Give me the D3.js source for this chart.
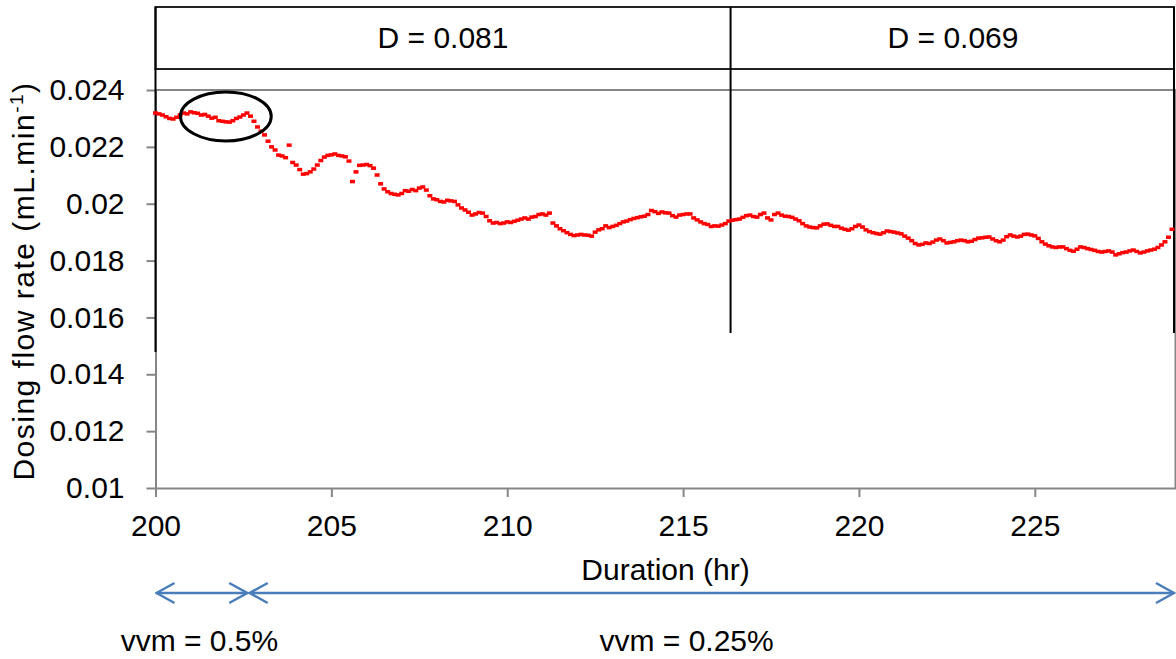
<!DOCTYPE html>
<html>
<head>
<meta charset="utf-8">
<script src="https://cdn.jsdelivr.net/npm/d3@7"></script>
<style>
  body { margin: 0; background: #fff; }
  text { font-family: "Liberation Sans", Arial, sans-serif; fill: #000; }
</style>
</head>
<body>
<div id="chart"></div>
<script>
var svgWidth = 1176;
var svgHeight = 659;

// Time axis starts at 200 hr, one reading every 0.1 hr
var startHour = 200;
var stepHour = 0.1;

// Dosing flow rate readings (mL.min-1), 200.0 .. 228.9 hr
var flowRate = [
  0.02319, 0.02316, 0.02312, 0.02306, 0.02300, 0.02298, 0.02304, 0.02312, 0.02319, 0.02316,
  0.02323, 0.02320, 0.02318, 0.02312, 0.02314, 0.02308, 0.02301, 0.02304, 0.02292, 0.02290,
  0.02288, 0.02287, 0.02292, 0.02300, 0.02305, 0.02312, 0.02319, 0.02308, 0.02290, 0.02270,
  0.02255, 0.02242, 0.02220, 0.02200, 0.02189, 0.02171, 0.02168, 0.02162, 0.02206, 0.02145,
  0.02136, 0.02120, 0.02104, 0.02106, 0.02112, 0.02122, 0.02136, 0.02152, 0.02164, 0.02170,
  0.02172, 0.02175, 0.02170, 0.02168, 0.02165, 0.02150, 0.02078, 0.02112, 0.02135, 0.02136,
  0.02138, 0.02134, 0.02125, 0.02101, 0.02070, 0.02052, 0.02042, 0.02036, 0.02033, 0.02031,
  0.02036, 0.02046, 0.02044, 0.02050, 0.02046, 0.02055, 0.02059, 0.02048, 0.02028, 0.02017,
  0.02014, 0.02008, 0.02006, 0.02012, 0.02010, 0.02008, 0.01996, 0.01985, 0.01978, 0.01970,
  0.01960, 0.01964, 0.01969, 0.01967, 0.01955, 0.01940, 0.01932, 0.01934, 0.01930, 0.01932,
  0.01936, 0.01934, 0.01938, 0.01942, 0.01946, 0.01950, 0.01946, 0.01953, 0.01955, 0.01962,
  0.01964, 0.01960, 0.01967, 0.01932, 0.01922, 0.01912, 0.01905, 0.01898, 0.01892, 0.01888,
  0.01890, 0.01892, 0.01890, 0.01889, 0.01886, 0.01900, 0.01908, 0.01912, 0.01922, 0.01916,
  0.01920, 0.01924, 0.01930, 0.01936, 0.01939, 0.01944, 0.01948, 0.01951, 0.01954, 0.01956,
  0.01962, 0.01976, 0.01972, 0.01966, 0.01971, 0.01968, 0.01967, 0.01958, 0.01953, 0.01960,
  0.01962, 0.01964, 0.01964, 0.01950, 0.01943, 0.01936, 0.01930, 0.01927, 0.01920, 0.01922,
  0.01921, 0.01925, 0.01930, 0.01939, 0.01942, 0.01944, 0.01946, 0.01952, 0.01958, 0.01960,
  0.01955, 0.01953, 0.01962, 0.01967, 0.01950, 0.01943, 0.01962, 0.01967, 0.01960, 0.01956,
  0.01955, 0.01952, 0.01946, 0.01940, 0.01930, 0.01922, 0.01918, 0.01916, 0.01915, 0.01922,
  0.01928, 0.01929, 0.01924, 0.01920, 0.01920, 0.01914, 0.01910, 0.01907, 0.01912, 0.01920,
  0.01925, 0.01918, 0.01908, 0.01902, 0.01898, 0.01895, 0.01893, 0.01898, 0.01904, 0.01902,
  0.01900, 0.01897, 0.01894, 0.01886, 0.01879, 0.01870, 0.01860, 0.01855, 0.01857, 0.01862,
  0.01860, 0.01865, 0.01872, 0.01876, 0.01870, 0.01862, 0.01864, 0.01866, 0.01870, 0.01872,
  0.01870, 0.01866, 0.01868, 0.01874, 0.01879, 0.01880, 0.01882, 0.01883, 0.01876, 0.01870,
  0.01866, 0.01872, 0.01884, 0.01890, 0.01886, 0.01883, 0.01886, 0.01892, 0.01893, 0.01890,
  0.01887, 0.01878, 0.01866, 0.01858, 0.01852, 0.01848, 0.01846, 0.01848, 0.01848, 0.01842,
  0.01836, 0.01833, 0.01840, 0.01848, 0.01846, 0.01842, 0.01839, 0.01836, 0.01832, 0.01830,
  0.01832, 0.01834, 0.01830, 0.01820, 0.01824, 0.01828, 0.01830, 0.01834, 0.01837, 0.01832,
  0.01827, 0.01830, 0.01834, 0.01837, 0.01840, 0.01846, 0.01855, 0.01866, 0.01882, 0.01910
];

var xTicks = [200, 205, 210, 215, 220, 225];
var yTicks = [0.01, 0.012, 0.014, 0.016, 0.018, 0.02, 0.022, 0.024];

// Dilution rate periods (hr) and their labels
var dBreaks = [200, 216.35, 229];
var dLabels = ["D = 0.081", "D = 0.069"];

// Aeration periods (hr) and their labels
var vvmBreaks = [200, 202.65, 229];
var vvmLabels = ["vvm = 0.5%", "vvm = 0.25%"];
var vvmLabelAt = [201.25, 215.1];

// Highlighted region: centre (hr, flow) and half extents
var ringCentre = [202.0, 0.02307];
var ringHalf = [1.29, 0.00086];

var svg = d3.select("#chart")
  .append("svg")
  .attr("width", svgWidth)
  .attr("height", svgHeight);

var x = d3.scaleLinear().domain([200, 229]).range([155.5, 1175.5]);
var y = d3.scaleLinear().domain([0.01, 0.024]).range([488, 90]);

var grey = "#868686";
var blue = "#4a7ebb";

// Plot frame (top and right edges)
svg.append("path")
  .attr("d", `M${x(200)},${y(0.024)}H${x(229)}V${y(0.01)}`)
  .attr("fill", "none")
  .attr("stroke", grey)
  .attr("stroke-width", 2);

// Axes
var xAxis = svg.append("g")
  .attr("transform", `translate(0, ${y(0.01)})`)
  .call(d3.axisBottom(x).tickValues(xTicks).tickSize(9).tickPadding(18).tickSizeOuter(0));

var yAxis = svg.append("g")
  .attr("transform", `translate(${x(200)}, 0)`)
  .call(d3.axisLeft(y).tickValues(yTicks).tickSize(9).tickPadding(22).tickSizeOuter(0)
    .tickFormat(d => String(+d.toFixed(3))));

[xAxis, yAxis].forEach(function(ax) {
  ax.select(".domain").attr("stroke", grey).attr("stroke-width", 2);
  ax.selectAll(".tick line").attr("stroke", grey).attr("stroke-width", 2);
  ax.selectAll(".tick text")
    .attr("fill", "#000")
    .style("font-size", "30px")
    .style("font-family", "'Liberation Sans', Arial, sans-serif");
});

// Header boxes with the dilution rates
svg.append("rect")
  .attr("x", x(200))
  .attr("y", 7)
  .attr("width", x(229) - x(200) - 1.5)
  .attr("height", 62)
  .attr("fill", "none")
  .attr("stroke", "#222")
  .attr("stroke-width", 2);

var dEnds = [352, 333, 333];
svg.selectAll(".dline")
  .data(dBreaks)
  .enter()
  .append("line")
  .attr("x1", (d, i) => i == dBreaks.length - 1 ? x(d) - 1.5 : x(d))
  .attr("x2", (d, i) => i == dBreaks.length - 1 ? x(d) - 1.5 : x(d))
  .attr("y1", 7)
  .attr("y2", (d, i) => dEnds[i])
  .attr("stroke", "#000")
  .attr("stroke-width", 2);

svg.selectAll(".dlabel")
  .data(dLabels)
  .enter()
  .append("text")
  .attr("x", (d, i) => (x(dBreaks[i]) + x(dBreaks[i + 1])) / 2)
  .attr("y", 48)
  .attr("text-anchor", "middle")
  .style("font-size", "30px")
  .text(d => d);

// Flow rate readings
svg.selectAll(".pt")
  .data(flowRate)
  .enter()
  .append("rect")
  .attr("x", (d, i) => x(startHour + i * stepHour) - 2.5)
  .attr("y", d => y(d) - 1.75)
  .attr("width", 5)
  .attr("height", 3.5)
  .attr("fill", "#ff0000");

// Highlight ring
svg.append("ellipse")
  .attr("cx", x(ringCentre[0]))
  .attr("cy", y(ringCentre[1]))
  .attr("rx", x(200 + ringHalf[0]) - x(200))
  .attr("ry", y(0.01) - y(0.01 + ringHalf[1]))
  .attr("fill", "none")
  .attr("stroke", "#000")
  .attr("stroke-width", 3);

// Axis titles
svg.append("text")
  .attr("x", (x(200) + x(229)) / 2)
  .attr("y", 580)
  .attr("text-anchor", "middle")
  .style("font-size", "30px")
  .text("Duration (hr)");

var yTitle = svg.append("text")
  .attr("transform", "translate(34, 281) rotate(-90)")
  .attr("text-anchor", "middle")
  .style("font-size", "30px")
  .style("letter-spacing", "1.5px");
yTitle.append("tspan").text("Dosing flow rate (mL.min");
yTitle.append("tspan").attr("dy", -11).style("font-size", "19px").text("-1");
yTitle.append("tspan").attr("dy", 11).text(")");

// Aeration arrows
var defs = svg.append("defs");
defs.append("marker")
  .attr("id", "vee")
  .attr("markerUnits", "userSpaceOnUse")
  .attr("viewBox", "-20 -12 22 24")
  .attr("markerWidth", 22)
  .attr("markerHeight", 24)
  .attr("refX", 0)
  .attr("refY", 0)
  .attr("orient", "auto-start-reverse")
  .append("path")
  .attr("d", "M-18,-10L0,0L-18,10")
  .attr("fill", "none")
  .attr("stroke", blue)
  .attr("stroke-width", 2.5);

svg.selectAll(".vvm")
  .data(vvmLabels)
  .enter()
  .append("line")
  .attr("x1", (d, i) => x(vvmBreaks[i]) + 1)
  .attr("x2", (d, i) => x(vvmBreaks[i + 1]) - 1.5)
  .attr("y1", 593)
  .attr("y2", 593)
  .attr("stroke", blue)
  .attr("stroke-width", 2.5)
  .attr("marker-start", "url(#vee)")
  .attr("marker-end", "url(#vee)");

svg.selectAll(".vvmlabel")
  .data(vvmLabels)
  .enter()
  .append("text")
  .attr("x", (d, i) => x(vvmLabelAt[i]))
  .attr("y", 651)
  .attr("text-anchor", "middle")
  .style("font-size", "30px")
  .text(d => d);
</script>
</body>
</html>
